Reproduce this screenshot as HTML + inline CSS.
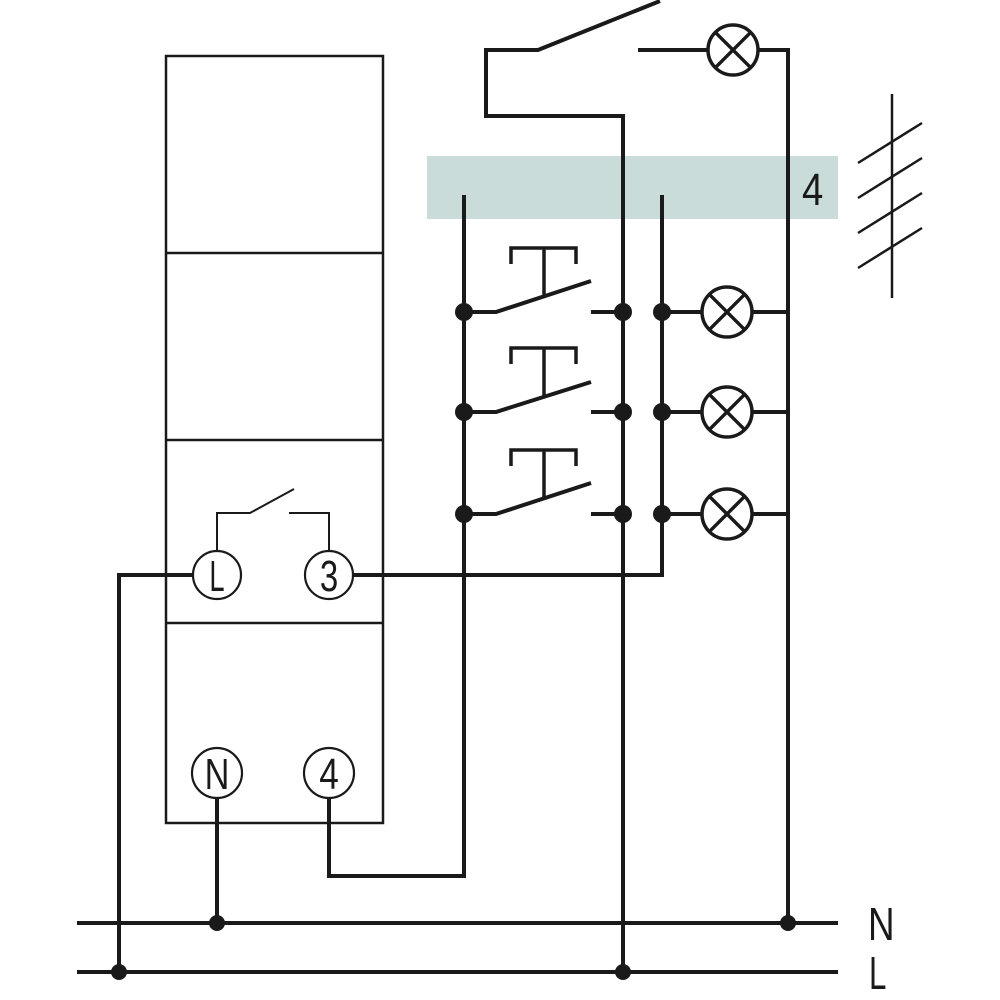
<!DOCTYPE html>
<html>
<head>
<meta charset="utf-8">
<style>
  html,body{margin:0;padding:0;background:#fff;}
  svg{display:block;}
  .t{font-family:"Liberation Sans",sans-serif;fill:#1a1a1a;}
</style>
</head>
<body>
<svg width="1000" height="1000" viewBox="0 0 1000 1000" xmlns="http://www.w3.org/2000/svg">
  <rect x="0" y="0" width="1000" height="1000" fill="#fff"/>

  <!-- gray band -->
  <rect x="427" y="156" width="411" height="63" fill="#c9dcda"/>
  <text class="t" x="0" y="0" font-size="45" transform="translate(802,205) scale(0.85,1)" fill="#333">4</text>

  <!-- module box -->
  <g fill="none" stroke="#1a1a1a" stroke-width="2.5">
    <rect x="166" y="56" width="217" height="767"/>
    <line x1="166" y1="253" x2="383" y2="253"/>
    <line x1="166" y1="440" x2="383" y2="440"/>
    <line x1="166" y1="623" x2="383" y2="623"/>
  </g>

  <!-- internal relay contact -->
  <g fill="none" stroke="#1a1a1a" stroke-width="2">
    <polyline points="217,551 217,513 250,513 294,489"/>
    <polyline points="289,513 329,513 329,551"/>
  </g>

  <!-- main wires -->
  <g fill="none" stroke="#1a1a1a" stroke-width="4" stroke-linecap="butt" stroke-linejoin="miter">
    <line x1="77" y1="923" x2="838" y2="923"/>
    <line x1="77" y1="972" x2="838" y2="972"/>
    <polyline points="193,575 119,575 119,972"/>
    <polyline points="353,575 662,575 662,195"/>
    <line x1="217" y1="797" x2="217" y2="923"/>
    <polyline points="329,797 329,876 464,876 464,195"/>
    <polyline points="623,972 623,116 486,116 486,50 538,50 660,1"/>
    <polyline points="638,50 707,50"/>
    <polyline points="759,50 788,50 788,923"/>
    <polyline points="464,312 496,312 591,281"/>
    <line x1="591" y1="312" x2="623" y2="312"/>
    <polyline points="464,412 496,412 591,382"/>
    <line x1="591" y1="412" x2="623" y2="412"/>
    <polyline points="464,514 496,514 591,483"/>
    <line x1="591" y1="514" x2="623" y2="514"/>
    <line x1="662" y1="312" x2="701" y2="312"/>
    <line x1="753" y1="312" x2="788" y2="312"/>
    <line x1="662" y1="412" x2="701" y2="412"/>
    <line x1="753" y1="412" x2="790" y2="412"/>
    <line x1="662" y1="514" x2="701" y2="514"/>
    <line x1="753" y1="514" x2="788" y2="514"/>
  </g>

  <!-- pushbutton T actuators -->
  <g fill="none" stroke="#1a1a1a" stroke-width="3.5">
    <polyline points="511,264 511,248 576,248 576,264"/>
    <line x1="544" y1="248" x2="544" y2="296"/>
    <polyline points="511,364 511,348 576,348 576,364"/>
    <line x1="544" y1="348" x2="544" y2="396"/>
    <polyline points="511,466 511,450 576,450 576,466"/>
    <line x1="544" y1="450" x2="544" y2="497"/>
  </g>

  <!-- lamps -->
  <g fill="#fff" stroke="#1a1a1a" stroke-width="3.5">
    <g transform="translate(733,50)"><circle r="25"/><line x1="-17.7" y1="-17.7" x2="17.7" y2="17.7"/><line x1="-17.7" y1="17.7" x2="17.7" y2="-17.7"/></g>
    <g transform="translate(727,312)"><circle r="25"/><line x1="-17.7" y1="-17.7" x2="17.7" y2="17.7"/><line x1="-17.7" y1="17.7" x2="17.7" y2="-17.7"/></g>
    <g transform="translate(727,412)"><circle r="25"/><line x1="-17.7" y1="-17.7" x2="17.7" y2="17.7"/><line x1="-17.7" y1="17.7" x2="17.7" y2="-17.7"/></g>
    <g transform="translate(727,514)"><circle r="25"/><line x1="-17.7" y1="-17.7" x2="17.7" y2="17.7"/><line x1="-17.7" y1="17.7" x2="17.7" y2="-17.7"/></g>
  </g>

  <!-- junction dots -->
  <g fill="#1a1a1a">
    <circle cx="464" cy="312" r="9"/>
    <circle cx="623" cy="312" r="9"/>
    <circle cx="662" cy="312" r="9"/>
    <circle cx="464" cy="412" r="9"/>
    <circle cx="623" cy="412" r="9"/>
    <circle cx="662" cy="412" r="9"/>
    <circle cx="464" cy="514" r="9"/>
    <circle cx="623" cy="514" r="9"/>
    <circle cx="662" cy="514" r="9"/>
    <circle cx="217" cy="923" r="8"/>
    <circle cx="788" cy="923" r="8"/>
    <circle cx="119" cy="972" r="8"/>
    <circle cx="623" cy="972" r="8"/>
  </g>

  <!-- terminals -->
  <g fill="#fff" stroke="#1a1a1a" stroke-width="2.2">
    <circle cx="217" cy="575" r="24"/>
    <circle cx="329" cy="575" r="24"/>
    <circle cx="217" cy="773" r="25"/>
    <circle cx="329" cy="773" r="25"/>
  </g>
  <g class="t" font-size="44" text-anchor="middle">
    <text transform="translate(217,591) scale(0.62,1)">L</text>
    <text transform="translate(329,591) scale(0.75,1)">3</text>
    <text transform="translate(217,789) scale(0.78,1)">N</text>
    <text transform="translate(329,789) scale(0.8,1)">4</text>
  </g>

  <!-- bus labels -->
  <g class="t" font-size="46">
    <text transform="translate(868,940) scale(0.8,1)">N</text>
    <text transform="translate(869,989) scale(0.68,1)">L</text>
  </g>

  <!-- cable hash symbol -->
  <g stroke="#1a1a1a" stroke-width="2.5" fill="none">
    <line x1="892" y1="94" x2="892" y2="298"/>
    <line x1="858" y1="163" x2="922" y2="123"/>
    <line x1="858" y1="198" x2="922" y2="158"/>
    <line x1="858" y1="233" x2="922" y2="193"/>
    <line x1="858" y1="268" x2="922" y2="228"/>
  </g>
</svg>
</body>
</html>
